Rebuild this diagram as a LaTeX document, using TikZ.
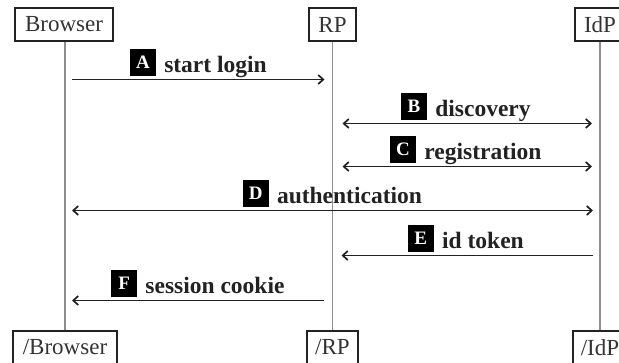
\documentclass[tikz,border=0pt]{standalone}
\usepackage{fontspec}
\setmainfont{Liberation Serif}
\usetikzlibrary{arrows.meta}
\definecolor{ink}{HTML}{222222}
\definecolor{boxtext}{HTML}{333333}
\definecolor{lifegray}{HTML}{8E8E8E}
\tikzset{
  actor/.style={draw=ink, line width=1.5pt, fill=white, minimum height=33pt,
    inner sep=0pt, font=\fontsize{23}{23}\selectfont, text=boxtext},
  lifeline/.style={draw=lifegray, line width=1.1pt},
  barb/.tip={Straight Barb[length=5pt,width=9pt]},
  msg/.style={draw=ink, line width=1.7pt, -barb},
  duplex/.style={draw=ink, line width=1.7pt, barb-barb},
  msgtext/.style={inner sep=0pt, anchor=base, text=ink,
    font=\fontsize{23.5}{24}\selectfont\bfseries},
  tagbox/.style={fill=black, text=white, minimum width=26pt, minimum height=26.5pt,
    inner sep=0pt, anchor=south east, font=\fontsize{19}{19}\selectfont\bfseries},
}
\begin{document}
\begin{tikzpicture}[x=1pt, y=-1pt]
  \useasboundingbox (0,0) rectangle (619,362);
  \fill[white] (0,0) rectangle (619,362);
  \clip (0,0) rectangle (619,362);

  % participants, top and bottom
  \node[actor, minimum width=98pt] (browser) at (64,24.5) {Browser};
  \node[actor, minimum width=47pt] (rp)      at (332.5,24.5) {RP};
  \node[actor, minimum width=50pt] (idp)     at (600,24.5) {IdP};
  \node[actor, minimum width=104pt] (browserEnd) at (65,347.5) {/Browser};
  \node[actor, minimum width=51pt]  (rpEnd)      at (332.5,347.5) {/RP};
  \node[actor, minimum width=54pt]  (idpEnd)     at (600,347.5) {/IdP};

  % lifelines
  \draw[lifeline] (browser.south -| browserEnd.north) -- (browserEnd);
  \draw[lifeline] (rp) -- (rpEnd);
  \draw[lifeline] (idp) -- (idpEnd);

  % message anchor points on the lifelines
  \foreach \n/\y in {A/79.5, B/123.5, C/166.5, D/210.5, E/255.5, F/300.5} {
    \coordinate (b\n) at (65,\y);
    \coordinate (r\n) at (332.5,\y);
    \coordinate (i\n) at (600,\y);
  }

  % messages
  \draw[msg, shorten <=7pt, shorten >=8pt] (bA) -- (rA);
  \draw[duplex, shorten <=10pt, shorten >=8pt] (rB) -- (iB);
  \draw[duplex, shorten <=10pt, shorten >=8pt] (rC) -- (iC);
  \draw[duplex, shorten <=7pt, shorten >=7pt] (bD) -- (iD);
  \draw[msg, shorten <=7pt, shorten >=9pt] (iE) -- (rE);
  \draw[msg, shorten <=9pt, shorten >=7pt] (rF) -- (bF);

  % message labels
  \node[msgtext] (tA) at (215.5,72.5) {start login};
  \node[msgtext] (tB) at (483,116.5) {discovery};
  \node[msgtext] (tC) at (483,159.5) {registration};
  \node[msgtext] (tD) at (349.5,203.5) {authentication};
  \node[msgtext] (tE) at (483,248.5) {id token};
  \node[msgtext] (tF) at (215,293.5) {session cookie};

  \foreach \n in {A,B,C,D,E,F}
    \node[tagbox] (k\n) at ([xshift=-8pt, yshift=-3.5pt]t\n.base west) {\n};
\end{tikzpicture}
\end{document}
